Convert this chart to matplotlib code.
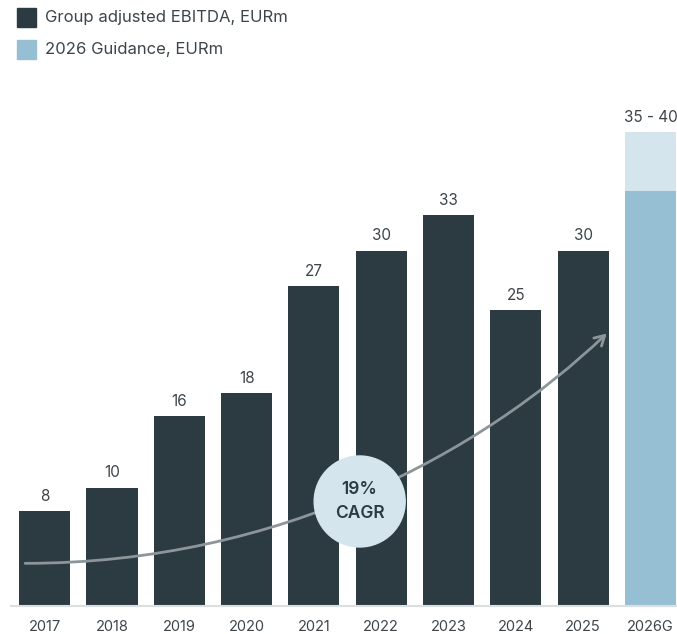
import matplotlib.pyplot as plt
from matplotlib.patches import Ellipse, FancyArrowPatch, Rectangle
from matplotlib.path import Path

plt.rcParams["font.family"] = ["Inter", "DejaVu Sans"]

years = ["2017", "2018", "2019", "2020", "2021", "2022", "2023", "2024", "2025"]
ebitda = [8, 10, 16, 18, 27, 30, 33, 25, 30]
guide_label = "2026G"
guide_low = 35
guide_high = 40

DARK = "#2c3a42"
MID = "#97bfd4"
LIGHT = "#d4e5ee"
TEXT = "#3d454b"

W, H = 677, 634
fig = plt.figure(figsize=(W / 100, H / 100), dpi=100)
ax = fig.add_axes([11 / W, (H - 606) / H, (W - 11) / W, (606 - 80) / H])

x = list(range(len(years)))
bw = 0.76
ax.bar(x, ebitda, width=bw, color=DARK, zorder=2)
gx = len(years)
ax.bar(gx, guide_low, width=bw, color=MID, zorder=2)
ax.bar(gx, guide_high - guide_low, bottom=guide_low, width=bw, color=LIGHT, zorder=2)

for xi, v in zip(x, ebitda):
    ax.text(xi, v + 0.6, f"{v}", ha="center", va="bottom", fontsize=11, color=TEXT)
ax.text(gx, guide_high + 0.6, f"{guide_low} - {guide_high}", ha="center", va="bottom",
        fontsize=11, color=TEXT)

ax.set_xlim(-0.5, 9.394)
ax.set_ylim(0, (606 - 80) / 11.85)
ax.set_xticks(x + [gx])
ax.set_xticklabels(years + [guide_label], fontsize=10.5, color=TEXT)
ax.tick_params(axis="x", length=0, pad=10)
ax.set_yticks([])
for s in ["top", "right", "left"]:
    ax.spines[s].set_visible(False)
ax.spines["bottom"].set_color("#dcdfe1")
ax.spines["bottom"].set_linewidth(1.5)

# growth curve with arrow head
verts = [(-0.29, 3.6), (3.5, 3.6), (6.5, 13.0), (8.35, 23.0)]
curve = Path(verts, [Path.MOVETO, Path.CURVE4, Path.CURVE4, Path.CURVE4])
ax.add_patch(FancyArrowPatch(path=curve, arrowstyle="->,head_length=7,head_width=4",
                             color="#8c9599", lw=2, zorder=3))

ax.add_patch(Ellipse((4.68, 8.82), 91 / 67.3, 91 / 11.85, color=LIGHT, zorder=4))
ax.text(4.68, 8.82, "19%\nCAGR", ha="center", va="center", fontsize=12.5,
        fontweight="semibold", color=DARK, linespacing=1.55, zorder=5)

# legend
for i, (col, lab) in enumerate([(DARK, "Group adjusted EBITDA, EURm"),
                                (MID, "2026 Guidance, EURm")]):
    top = 8 + i * 32
    fig.patches.append(Rectangle((17 / W, (H - top - 19) / H), 19 / W, 19 / H,
                                 transform=fig.transFigure, color=col))
    fig.text(45 / W, (H - top - 9.5) / H, lab, ha="left", va="center",
             fontsize=12, color=TEXT)

fig.savefig("out.png", dpi=100)
